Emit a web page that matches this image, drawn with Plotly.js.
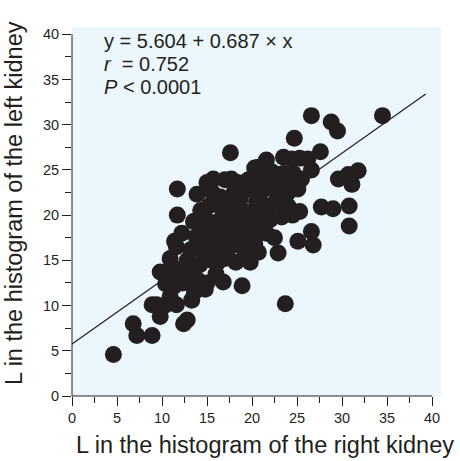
<!DOCTYPE html>
<html>
<head>
<meta charset="utf-8">
<script src="https://cdn.plot.ly/plotly-3.0.1.min.js"></script>
<style>html,body{margin:0;padding:0;background:#fff;}</style>
</head>
<body>
<div id="chart" style="width:460px;height:461px;"></div>
<script>
// L in the histogram: right kidney (x) vs left kidney (y)
var rightL = [
  4.6, 6.8, 7.2, 8.9, 9.8, 8.9, 10.3, 9.4, 9.8, 10.4, 10.9, 11.3, 10.9, 11.6, 12.4, 12.8,
  11.4, 11.6, 12.2, 11.7, 11.7, 11.8, 12.3, 11.3, 10.5,
  13.3, 12.8, 13.2, 13.0, 13.5, 13.9, 13.6, 14.0, 14.2, 13.8, 14.5, 14.3, 14.6, 15.0, 14.8,
  15.5, 15.0, 15.3, 15.0, 15.2, 15.6, 15.7, 15.0,
  16.0, 16.8, 16.2, 16.4, 16.0, 16.4, 16.6, 16.5, 17.0, 17.7, 17.6, 17.6, 17.3, 17.5, 17.8,
  17.2, 18.0, 18.4, 17.0, 18.2, 18.5, 18.0,
  18.9, 19.8, 19.2, 18.8, 19.0, 18.7, 19.3, 19.8, 19.6, 20.3, 20.7, 19.5, 20.0, 20.5, 20.5,
  20.2, 20.7, 21.0, 20.8, 19.5, 20.3, 21.0,
  21.6, 21.5, 21.3, 21.6, 22.0, 22.0, 22.5, 22.8, 22.2, 22.9, 23.0, 23.5, 23.5, 23.3, 23.0,
  22.5, 23.7, 24.0, 24.0, 23.8, 21.8, 24.4,
  24.5, 24.7, 25.3, 25.1, 25.3, 24.5, 25.1, 26.8, 26.6, 26.6, 26.2, 27.6, 26.6, 24.6, 25.5,
  28.8, 29.5, 34.5, 29.6, 30.7, 31.8, 31.1, 27.7, 29.0, 30.8, 30.8
];
var leftL = [
  4.6, 8.0, 6.7, 6.7, 8.8, 10.1, 10.0, 10.1, 13.7, 12.4, 11.0, 13.2, 15.2, 10.1, 8.0, 8.4,
  17.1, 16.5, 18.0, 20.0, 22.9, 14.0, 12.5, 12.1, 13.7,
  10.6, 15.0, 16.2, 13.5, 19.3, 22.3, 11.5, 12.8, 14.5, 17.6, 16.0, 20.5, 18.5, 12.5, 11.8,
  15.0, 15.8, 17.2, 19.4, 21.0, 22.5, 24.0, 23.6,
  13.5, 12.6, 14.8, 16.4, 18.0, 19.4, 20.8, 22.0, 23.9, 24.0, 26.9, 16.5, 17.8, 18.8, 20.3,
  21.5, 22.5, 23.6, 15.2, 14.8, 17.0, 18.0,
  12.2, 14.8, 16.0, 19.0, 20.5, 21.8, 22.8, 23.1, 23.9, 25.2, 25.3, 19.0, 20.0, 18.5, 21.5,
  17.2, 15.9, 22.5, 24.0, 17.8, 16.8, 19.6,
  26.1, 24.0, 20.5, 18.0, 21.0, 19.5, 23.0, 22.0, 24.8, 15.8, 24.5, 26.4, 24.6, 19.8, 21.5,
  17.5, 10.2, 22.5, 21.0, 23.5, 23.5, 26.2,
  23.5, 28.5, 26.3, 22.9, 20.4, 20.0, 17.1, 16.7, 18.2, 25.0, 26.2, 27.0, 31.0, 24.6, 24.0,
  30.3, 29.3, 31.0, 24.0, 24.5, 24.9, 23.4, 20.9, 20.7, 21.0, 18.8
];
// Regression line end points (as drawn in the figure)
var fitX = [0, 39.3];
var fitY = [5.75, 33.4];
var statLines = ["y = 5.604 + 0.687 \u00d7 x", "<i>r</i>\u00a0 = 0.752", "<i>P</i> &lt; 0.0001"];
var statY = [39.2, 36.7, 34.2];
var xTitle = "L in the histogram of the right kidney";
var yTitle = "L in the histogram of the left kidney";
var tickVals = [0, 5, 10, 15, 20, 25, 30, 35, 40];

var ink = '#231f20';
var xRange = [0, 41];
var yRange = [0, 40.8];
var fontFam = 'Liberation Sans, Arial, sans-serif';

var traces = [
  {type:'scatter', mode:'lines', x:fitX, y:fitY, line:{color:ink, width:1.2}, hoverinfo:'skip'},
  {type:'scatter', mode:'markers', x:rightL, y:leftL,
   marker:{size:17, color:ink, line:{width:0}}}
];

function axis(range) {
  return {
    range: range, tickvals: tickVals, ticks:'outside', ticklen:9, tickwidth:1, tickcolor:ink,
    showline:false, showgrid:false, zeroline:false, fixedrange:true,
    tickfont:{family:fontFam, size:14.5, color:ink},
    minor:{dtick:2.5, tick0:0, ticks:'outside', ticklen:6, tickwidth:1, tickcolor:ink, showgrid:false}
  };
}

var annotations = statLines.map(function(t, i){
  return {xref:'x', yref:'y', x:3.3, y:statY[i], text:t, showarrow:false,
          xanchor:'left', yanchor:'middle', font:{family:fontFam, size:20, color:ink}};
});
annotations.push({xref:'paper', yref:'paper', x:(264.5-72)/369, y:-0.134, text:xTitle, showarrow:false,
  xanchor:'center', yanchor:'middle', font:{family:fontFam, size:23.5, color:ink}});
annotations.push({xref:'paper', yref:'paper', x:-0.157, y:0.523, text:yTitle, showarrow:false, textangle:-90,
  xanchor:'center', yanchor:'middle', font:{family:fontFam, size:23.5, color:ink}});

var layout = {
  width:460, height:461,
  margin:{l:72, r:19, t:27, b:65, pad:0},
  paper_bgcolor:'#ffffff', plot_bgcolor:'#ebf7fd',
  showlegend:false,
  xaxis: axis(xRange),
  yaxis: axis(yRange),
  annotations: annotations,
  shapes: [
    {type:'line', xref:'paper', yref:'paper', x0:0, x1:(tickVals[tickVals.length-1]-xRange[0])/(xRange[1]-xRange[0]), y0:0, y1:0, line:{color:ink, width:1}},
    {type:'line', xref:'paper', yref:'paper', x0:0, x1:0, y0:0, y1:(tickVals[tickVals.length-1]-yRange[0])/(yRange[1]-yRange[0]), line:{color:ink, width:1}}
  ]
};

Plotly.newPlot('chart', traces, layout, {displayModeBar:false, staticPlot:true});
</script>
</body>
</html>
